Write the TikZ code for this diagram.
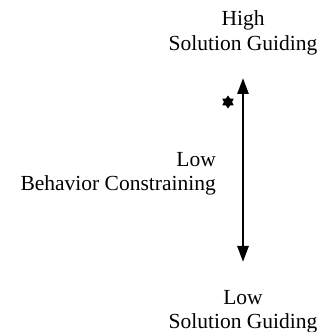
\documentclass[tikz,border=0pt]{standalone}
\usepackage{fontspec}
\setmainfont{Liberation Serif}
\usetikzlibrary{shapes.geometric,arrows.meta}
\begin{document}
\begin{tikzpicture}[x=1pt,y=1pt,
  lbl/.style={inner sep=0pt,font=\fontsize{21.5}{24.5}\selectfont},
  axis/.style={line width=2.8pt,{Triangle[width=11pt,length=16pt]}-{Triangle[width=11pt,length=16pt]}},
  mark6/.style={star,star points=6,star point ratio=1.6,fill=black,inner sep=0pt,minimum size=13pt}]
\useasboundingbox (0,0) rectangle (323,332);
\coordinate (top) at (243,254);
\coordinate (bot) at (243,70);
\draw[axis] (bot) -- (top);
\node[lbl,align=center,anchor=north] (hi) at (243,321.5) {High\\Solution Guiding};
\node[lbl,align=center,anchor=north] (lo) at (243,42) {Low\\Solution Guiding};
\node[lbl,align=right,anchor=north east] (bc) at (216,180) {Low\\Behavior Constraining};
\node[mark6] (st) at (228,230) {};
\end{tikzpicture}
\end{document}
